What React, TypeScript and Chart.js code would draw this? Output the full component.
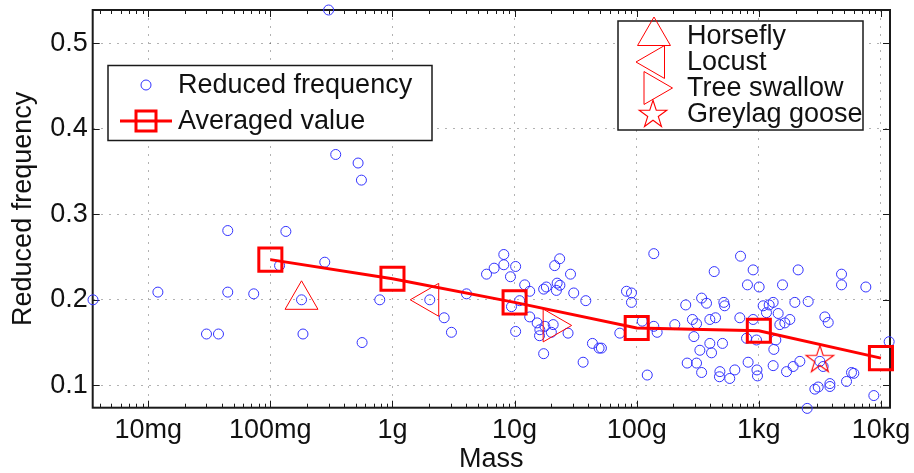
import React, { useEffect, useRef } from 'react';
import { Chart, registerables } from 'chart.js';

Chart.register(...registerables);

const FONT = '"Liberation Sans", Arial, Helvetica, sans-serif';

// ---- data (mass in grams) ----
const reducedMass = [
  0.00353, 0.012, 0.03, 0.0376, 0.0448, 0.0448, 0.0731, 0.119, 0.134, 0.18,
  0.185, 0.279, 0.3, 0.343, 0.523, 0.557, 0.564, 0.787, 2.02, 2.65, 3.04,
  4.04, 5.89, 6.8, 8.16, 8.16, 10.2, 9.25, 12.1, 13.3, 9.43,
  11.0, 10.2, 13.3, 15.3, 16.1, 16.0, 17.3, 17.7, 20.7, 20.0,
  17.3, 18.2, 21.3, 23.4, 28.7, 22.3, 23.5, 22.0, 30.5, 38.3,
  27.4, 43.4, 49.2, 51.4, 36.4, 82.5, 90.6, 90.6, 72.7, 111,
  138, 138, 147, 122, 205, 252, 259, 309, 340, 286,
  309, 294, 340, 373, 329, 397, 410, 397, 442, 431,
  504, 517, 525, 480, 476, 578, 636, 708, 807, 898,
  1006, 699, 817, 898, 793, 957, 965, 975, 1085, 1155,
  1215, 1310, 1440, 1378, 1327, 1310, 1486, 1563, 1633, 1795,
  1972, 2099, 2168, 1910, 1686, 2535, 2488, 2876, 3063, 3473,
  3700, 3161, 3363, 3818, 3818, 4755, 4755, 5225, 5740, 5995,
  7520, 8745, 11670,
];
const reducedFreq = [
  0.2, 0.209, 0.16, 0.16, 0.281, 0.209, 0.207, 0.24, 0.28, 0.2,
  0.16, 0.244, 0.539, 0.37, 0.36, 0.34, 0.15, 0.2, 0.2, 0.179, 0.162,
  0.207, 0.23, 0.237, 0.253, 0.241, 0.239, 0.227, 0.2175, 0.21, 0.192,
  0.199, 0.163, 0.18, 0.173, 0.165, 0.158, 0.137, 0.169, 0.171, 0.162,
  0.2125, 0.215, 0.24, 0.248, 0.23, 0.2195, 0.217, 0.211, 0.208, 0.199,
  0.161, 0.149, 0.1435, 0.1435, 0.127, 0.21, 0.208, 0.197, 0.161, 0.175,
  0.254, 0.169, 0.162, 0.112, 0.171, 0.194, 0.126, 0.126, 0.115, 0.177,
  0.172, 0.157, 0.202, 0.196, 0.141, 0.149, 0.138, 0.177, 0.179, 0.233,
  0.149, 0.197, 0.193, 0.116, 0.11, 0.108, 0.118, 0.251, 0.2175, 0.235,
  0.215, 0.179, 0.127, 0.177, 0.155, 0.153, 0.118, 0.111, 0.193, 0.185,
  0.194, 0.197, 0.184, 0.153, 0.142, 0.123, 0.171, 0.2175, 0.173, 0.177,
  0.197, 0.235, 0.128, 0.122, 0.116, 0.198, 0.073, 0.0955, 0.098, 0.18,
  0.1735, 0.128, 0.122, 0.102, 0.0986, 0.23, 0.2175, 0.1045, 0.115, 0.114,
  0.215, 0.088, 0.151,
];

const avgMass = [0.1, 1, 10, 100, 1000, 10000];
const avgFreq = [0.247, 0.2246, 0.197, 0.167, 0.1637, 0.1318];

const specialNames = ['Horsefly', 'Locust', 'Tree swallow', 'Greylag goose'];
const specialMass = [0.18, 2.0, 20.5, 3160];
const specialFreq = [0.2, 0.2, 0.17, 0.1306];

const seriesNames = ['Reduced frequency', 'Averaged value'];

const xTickValues = [0.01, 0.1, 1, 10, 100, 1000, 10000];
const xTickLabels = ['10mg', '100mg', '1g', '10g', '100g', '1kg', '10kg'];
const yTickValues = [0.1, 0.2, 0.3, 0.4, 0.5];

const X_MIN = 0.00351;
const X_MAX = 11860;
const Y_MIN = 0.0738;
const Y_MAX = 0.539;

const BLUE = 'rgb(50,50,255)';
const RED = 'rgb(255,0,0)';
const TEXT = '#111';
const GRID = 'rgba(0,0,0,0.3)';

function makeStar(R: number, color: string): HTMLCanvasElement {
  const size = Math.ceil(R * 2 + 3);
  const c = document.createElement('canvas');
  c.width = size;
  c.height = size;
  const ctx = c.getContext('2d')!;
  const cx = size / 2;
  const cy = size / 2 + R * 0.05;
  const r = R * 0.382;
  ctx.beginPath();
  for (let i = 0; i < 10; i++) {
    const a = -Math.PI / 2 + (i * Math.PI) / 5;
    const rad = i % 2 === 0 ? R : r;
    const px = cx + rad * Math.cos(a);
    const py = cy + rad * Math.sin(a);
    if (i === 0) ctx.moveTo(px, py);
    else ctx.lineTo(px, py);
  }
  ctx.closePath();
  ctx.strokeStyle = color;
  ctx.lineWidth = 1.1;
  ctx.stroke();
  return c;
}

function triPath(ctx: CanvasRenderingContext2D, x: number, y: number, r: number, rotDeg: number) {
  let rad = (rotDeg * Math.PI) / 180;
  ctx.beginPath();
  ctx.moveTo(x + Math.sin(rad) * r, y - Math.cos(rad) * r);
  rad += (2 * Math.PI) / 3;
  ctx.lineTo(x + Math.sin(rad) * r, y - Math.cos(rad) * r);
  rad += (2 * Math.PI) / 3;
  ctx.lineTo(x + Math.sin(rad) * r, y - Math.cos(rad) * r);
  ctx.closePath();
}

export default function App() {
  const ref = useRef<HTMLCanvasElement | null>(null);

  useEffect(() => {
    const canvas = ref.current;
    if (!canvas) return;
    const star = makeStar(14.5, RED);
    const TRI_R = 19;

    const framePlugin = {
      id: 'matlabFrame',
      beforeDatasetsDraw(chart: any) {
        const { ctx, chartArea: a } = chart;
        const xs = chart.scales.x;
        const ys = chart.scales.y;
        ctx.save();
        ctx.strokeStyle = '#1a1a1a';
        ctx.lineWidth = 1;
        for (let e = -3; e <= 4; e++) {
          for (let k = 1; k <= 9; k++) {
            const v = k * Math.pow(10, e);
            if (v < X_MIN || v > X_MAX) continue;
            const px = Math.round(xs.getPixelForValue(v)) + 0.5;
            const len = k === 1 ? 7 : 4;
            ctx.beginPath();
            ctx.moveTo(px, a.bottom);
            ctx.lineTo(px, a.bottom - len);
            ctx.moveTo(px, a.top);
            ctx.lineTo(px, a.top + len);
            ctx.stroke();
          }
        }
        for (const v of yTickValues) {
          const py = Math.round(ys.getPixelForValue(v)) + 0.5;
          ctx.beginPath();
          ctx.moveTo(a.left, py);
          ctx.lineTo(a.left + 7, py);
          ctx.moveTo(a.right, py);
          ctx.lineTo(a.right - 7, py);
          ctx.stroke();
        }
        ctx.lineWidth = 2;
        ctx.strokeRect(a.left, a.top, a.right - a.left, a.bottom - a.top);
        ctx.restore();
      },
      afterDraw(chart: any) {
        const { ctx } = chart;
        ctx.save();
        ctx.font = `27px ${FONT}`;
        ctx.textBaseline = 'middle';
        ctx.textAlign = 'left';

        // Legend 1
        ctx.fillStyle = '#fff';
        ctx.fillRect(108, 65.5, 324, 75);
        ctx.strokeStyle = '#1a1a1a';
        ctx.lineWidth = 1.5;
        ctx.strokeRect(108, 65.5, 324, 75);
        ctx.strokeStyle = BLUE;
        ctx.lineWidth = 1;
        ctx.beginPath();
        ctx.arc(146, 85, 5, 0, Math.PI * 2);
        ctx.stroke();
        ctx.fillStyle = TEXT;
        ctx.fillText(seriesNames[0], 178, 86);
        ctx.strokeStyle = RED;
        ctx.lineWidth = 3;
        ctx.beginPath();
        ctx.moveTo(120, 121);
        ctx.lineTo(172, 121);
        ctx.stroke();
        ctx.strokeRect(146 - 10, 121 - 10, 20, 20);
        ctx.fillText(seriesNames[1], 178, 122);

        // Legend 2
        ctx.fillStyle = '#fff';
        ctx.fillRect(618, 21, 245, 109);
        ctx.strokeStyle = '#1a1a1a';
        ctx.lineWidth = 1.5;
        ctx.strokeRect(618, 21, 245, 109);
        const rows = [36, 62, 88, 114];
        ctx.strokeStyle = RED;
        ctx.lineWidth = 1;
        triPath(ctx, 654, rows[0], TRI_R, 0);
        ctx.stroke();
        triPath(ctx, 655, rows[1], TRI_R, -90);
        ctx.stroke();
        triPath(ctx, 653.5, rows[2], TRI_R, 90);
        ctx.stroke();
        ctx.drawImage(star, 653 - star.width / 2, rows[3] - star.height / 2);
        ctx.fillStyle = TEXT;
        specialNames.forEach((n, i) => ctx.fillText(n, 687, rows[i] + 1));
        ctx.restore();
      },
    };

    const pts = (m: number[], f: number[]) => m.map((v, i) => ({ x: v, y: f[i] }));

    const specialDs = specialNames.map((name, i) => ({
      label: name,
      data: [{ x: specialMass[i], y: specialFreq[i] }],
      pointStyle: i === 3 ? star : 'triangle',
      rotation: i === 1 ? -90 : i === 2 ? 90 : 0,
      pointRadius: TRI_R,
      pointHoverRadius: TRI_R,
      borderColor: RED,
      backgroundColor: 'rgba(0,0,0,0)',
      borderWidth: 1,
      showLine: false,
      clip: false,
      order: 1,
    }));

    const chart = new Chart(canvas, {
      type: 'scatter',
      data: {
        datasets: [
          {
            label: seriesNames[1],
            data: pts(avgMass, avgFreq),
            showLine: true,
            borderColor: RED,
            borderWidth: 3,
            pointStyle: 'rect',
            pointRadius: 16.3,
            pointBorderWidth: 3,
            pointBorderColor: RED,
            pointBackgroundColor: 'rgba(0,0,0,0)',
            backgroundColor: 'rgba(0,0,0,0)',
            clip: false,
            order: 0,
          } as any,
          ...(specialDs as any[]),
          {
            label: seriesNames[0],
            data: pts(reducedMass, reducedFreq),
            pointStyle: 'circle',
            pointRadius: 5,
            borderColor: BLUE,
            backgroundColor: 'rgba(0,0,0,0)',
            borderWidth: 1,
            clip: false,
            order: 2,
          } as any,
        ],
      },
      options: {
        responsive: false,
        animation: false,
        events: [],
        layout: { autoPadding: false, padding: { left: 0, top: 10, right: 24, bottom: 0 } },
        plugins: {
          legend: { display: false },
          tooltip: { enabled: false },
        },
        scales: {
          x: {
            type: 'logarithmic',
            min: X_MIN,
            max: X_MAX,
            afterBuildTicks: (s: any) => {
              s.ticks = xTickValues.map((v) => ({ value: v }));
            },
            afterFit: (s: any) => {
              s.height = 65.3;
              s.paddingLeft = 0;
              s.paddingRight = 0;
            },
            ticks: {
              autoSkip: false,
              maxRotation: 0,
              padding: 7,
              color: TEXT,
              font: { family: FONT, size: 27 },
              callback: (_v: any, i: number) => xTickLabels[i],
            },
            grid: {
              drawTicks: false,
              color: GRID,
              lineWidth: 1,
            },
            border: { display: false, dash: [2, 6] },
            title: {
              display: true,
              text: 'Mass',
              color: TEXT,
              font: { family: FONT, size: 27 },
              padding: { top: 0, bottom: -3 },
            },
          },
          y: {
            type: 'linear',
            min: Y_MIN,
            max: Y_MAX,
            afterBuildTicks: (s: any) => {
              s.ticks = yTickValues.map((v) => ({ value: v }));
            },
            afterFit: (s: any) => {
              s.width = 92.7;
              s.paddingTop = 0;
              s.paddingBottom = 0;
            },
            ticks: {
              padding: 5,
              color: TEXT,
              font: { family: FONT, size: 27 },
              callback: (v: any) => Number(v).toFixed(1),
            },
            grid: {
              drawTicks: false,
              color: GRID,
              lineWidth: 1,
            },
            border: { display: false, dash: [2, 6] },
            title: {
              display: true,
              text: 'Reduced frequency',
              color: TEXT,
              font: { family: FONT, size: 27 },
              padding: { top: 7, bottom: 0 },
            },
          },
        },
      } as any,
      plugins: [framePlugin],
    });

    return () => chart.destroy();
  }, []);

  return (
    <div style={{ position: 'absolute', left: 0, top: 0, width: 914, height: 473, background: '#fff' }}>
      <canvas ref={ref} width={914} height={473} style={{ display: 'block' }} />
    </div>
  );
}
